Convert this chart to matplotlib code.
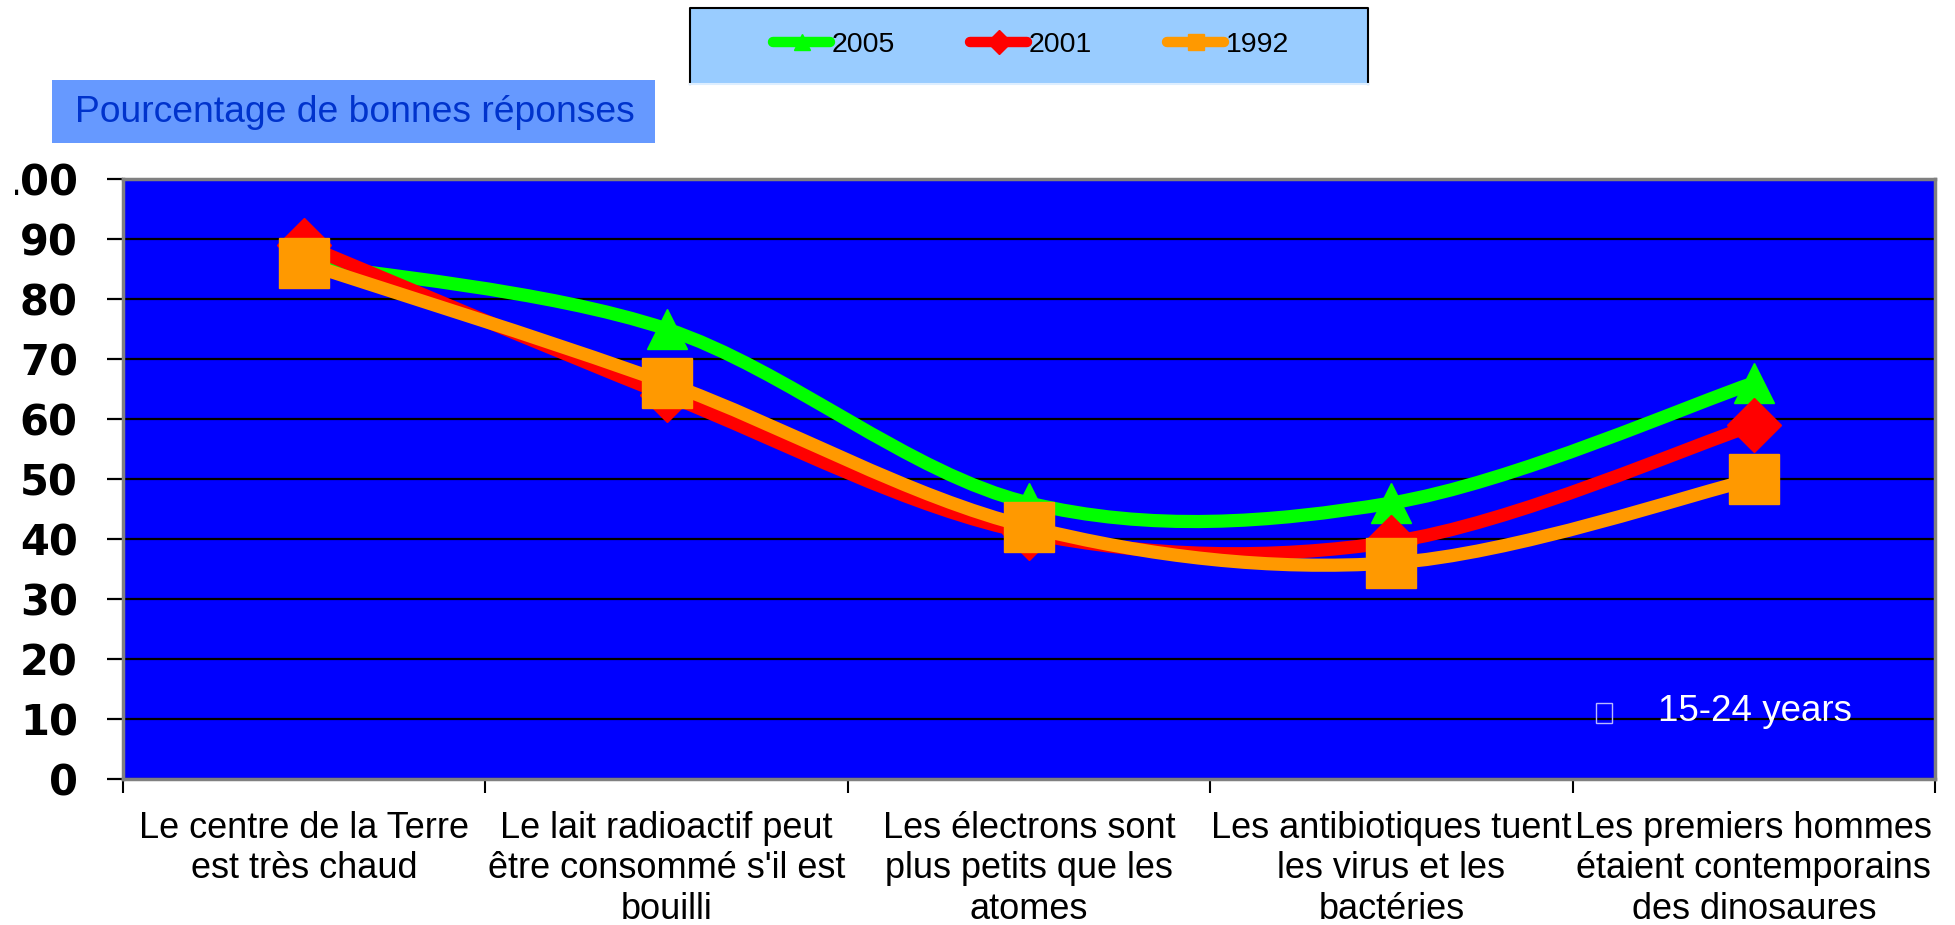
import matplotlib.pyplot as plt
import numpy as np
from matplotlib.patches import Rectangle, PathPatch
from matplotlib.path import Path
from matplotlib.lines import Line2D
from matplotlib.transforms import Bbox, TransformedBbox

# Data
categories = [
    "Le centre de la Terre\nest très chaud",
    "Le lait radioactif peut\nêtre consommé s'il est\nbouilli",
    "Les électrons sont\nplus petits que les\natomes",
    "Les antibiotiques tuent\nles virus et les\nbactéries",
    "Les premiers hommes\nétaient contemporains\ndes dinosaures",
]
years = ["2005", "2001", "1992"]
pct_2005 = [86, 75, 46, 46, 66]
pct_2001 = [89, 64, 41, 39.5, 59]
pct_1992 = [86, 66, 42, 36, 50]
y_ticks = [0, 10, 20, 30, 40, 50, 60, 70, 80, 90, 100]

# Colors
plot_blue = '#0000FF'
green = '#00FF00'
red = '#FF0000'
orange = '#FF9900'
legend_bg = '#99CCFF'
title_bg = '#6699FF'
title_fg = '#0033CC'

W, H = 1955, 925
fig = plt.figure(figsize=(W / 100, H / 100), dpi=100)
fig.patch.set_facecolor('white')


def fx(px):
    return px / W


def fy(py):
    return 1 - py / H


ax = fig.add_axes([fx(123), fy(779), fx(1935 - 123), (779 - 179) / H])
ax.set_facecolor(plot_blue)
ax.set_xlim(0, 5)
ax.set_ylim(0, 100)


def smooth_path(xs, ys):
    # Bezier smoothing like the spreadsheet "smoothed line" option
    pts = np.column_stack([xs, ys]).astype(float)
    ext = np.vstack([pts[0], pts, pts[-1]])
    verts = [pts[0]]
    codes = [Path.MOVETO]
    for i in range(len(pts) - 1):
        p0, p1, p2, p3 = ext[i], ext[i + 1], ext[i + 2], ext[i + 3]
        verts += [p1 + (p2 - p0) / 6, p2 - (p3 - p1) / 6, p2]
        codes += [Path.CURVE4] * 3
    return Path(verts, codes)


x = np.arange(len(categories)) + 0.5
series = [
    (pct_2005, green, '^', 29),
    (pct_2001, red, 'D', 28),
    (pct_1992, orange, 's', 36),
]
z = 3
for vals, col, mk, ms in series:
    ax.add_patch(PathPatch(smooth_path(x, vals), fill=False, edgecolor=col, lw=9.5,
                           capstyle='round', joinstyle='round', zorder=z))
    ax.plot(x, vals, linestyle='none', marker=mk, ms=ms, color=col,
            markeredgecolor=col, zorder=z + 1)
    z += 2

# Grid and axes styling
ax.set_yticks(y_ticks)
ax.yaxis.grid(True, color='black', lw=1.6)
ax.set_axisbelow(True)
for s in ax.spines.values():
    s.set_color('#808080')
    s.set_linewidth(2.5)
ax.tick_params(axis='y', length=11.5, width=1.6, color='black', pad=21,
               labelsize=30)
# the top label is cut by the slide edge in the original
clip = TransformedBbox(Bbox([[fx(15), 0], [1, 1]]), fig.transFigure)
for lab in ax.get_yticklabels():
    lab.set_fontfamily('DejaVu Sans')
    lab.set_fontweight('bold')
    lab.set_clip_box(clip)
    lab.set_clip_on(True)

ax.set_xticks(range(6))
ax.set_xticklabels([])
ax.tick_params(axis='x', which='major', length=10, width=1.5, color='black')
ax.set_xticks(x, labels=categories, minor=True)
ax.tick_params(axis='x', which='minor', length=0, pad=23)
for lab in ax.get_xticklabels(minor=True):
    lab.set_fontfamily('Liberation Sans')
    lab.set_fontsize(26)
    lab.set_linespacing(1.2)

# Age group note inside the plot
ax.add_patch(Rectangle((4.065, 9.4), 0.045, 3.3, fill=False, edgecolor='#b8b8ff',
                       lw=1, zorder=10))
ax.text(4.236, 11.3, '15-24 years', color='white', fontsize=26.5,
        family='Liberation Sans', va='center', ha='left', zorder=10)

# Title box
fig.patches.append(Rectangle((fx(52), fy(143)), fx(655 - 52), (143 - 80) / H,
                             transform=fig.transFigure, facecolor=title_bg,
                             edgecolor='none'))
fig.text(fx(75), fy(113), 'Pourcentage de bonnes réponses', color=title_fg,
         fontsize=26.8, family='Liberation Sans', va='center', ha='left')

# Legend box
fig.patches.append(Rectangle((fx(690), fy(84)), fx(1368 - 690), (84 - 8) / H,
                             transform=fig.transFigure, facecolor=legend_bg,
                             edgecolor='none'))
fig.add_artist(Line2D([fx(690), fx(690), fx(1368), fx(1368)],
                      [fy(84), fy(8), fy(8), fy(84)],
                      transform=fig.transFigure, color='black', lw=1.5))
fig.add_artist(Line2D([fx(690), fx(1368)], [fy(84), fy(84)],
                      transform=fig.transFigure, color='#ddeeff', lw=1.5))

handles = [Line2D([], [], color=col, lw=7.5, marker=mk, ms=12, solid_capstyle='round')
           for _, col, mk, _ in series]
fig.legend(handles, years, loc='center', bbox_to_anchor=(fx(1031), fy(45)),
           ncol=3, frameon=False, handlelength=2.0, handletextpad=0.05,
           columnspacing=2.65, prop={'family': 'Liberation Sans', 'size': 20.5})

plt.savefig('out.png', dpi=100, facecolor='white')
